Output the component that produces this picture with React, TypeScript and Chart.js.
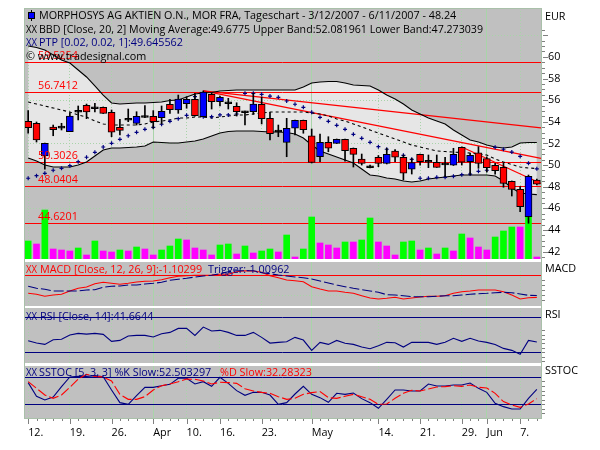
import React, { useEffect, useRef } from 'react';
import { Chart, registerables } from 'chart.js';

Chart.register(...registerables);

const FONT = '"Open Sans", sans-serif';
const FONT_SIZE = 10.8;
const GRAY = '#c0c0c0';
const NAVY = '#000080';
const RED = '#ff0000';
const GRID = '#a8d4a8';
const TICK = '#808080';

const opens = [54.04, 53.86, 50.84, 53.52, 53.60, 53.08, 54.88, 55.52, 55.39, 55.34, 54.88, 53.49, 54.32, 53.86, 54.58, 54.50, 54.38, 55.62, 55.09, 55.67, 56.08, 54.47, 56.54, 55.86, 55.85, 55.43, 55.02, 54.93, 55.62, 54.32, 53.24, 52.10, 53.40, 54.14, 52.71, 50.77, 52.10, 52.01, 52.38, 51.55, 50.56, 49.94, 50.72, 50.16, 51.30, 50.72, 49.61, 50.99, 50.44, 50.26, 50.19, 49.98, 51.64, 50.31, 51.14, 50.59, 49.98, 49.79, 48.50, 47.76, 45.23, 48.62];
const closes = [53.45, 52.32, 52.01, 53.27, 53.42, 54.53, 55.06, 54.90, 55.21, 54.78, 53.03, 53.21, 54.14, 54.50, 54.40, 54.01, 54.97, 55.12, 56.10, 56.08, 54.56, 56.75, 55.86, 56.26, 55.67, 54.93, 54.84, 55.64, 54.29, 52.90, 53.06, 53.40, 54.14, 53.27, 50.24, 52.10, 51.55, 52.38, 51.33, 50.99, 50.16, 49.76, 50.16, 50.99, 50.72, 49.24, 50.22, 50.31, 50.26, 49.79, 50.01, 50.99, 50.26, 50.90, 50.16, 49.76, 49.48, 48.31, 47.76, 46.15, 48.96, 48.24];
const highs = [55.03, 53.98, 52.04, 53.70, 53.86, 54.84, 55.46, 55.64, 55.71, 55.37, 55.09, 54.23, 55.18, 54.93, 55.49, 55.03, 55.46, 56.08, 56.47, 56.32, 56.63, 56.85, 56.66, 56.38, 56.17, 55.76, 54.99, 56.63, 56.29, 54.88, 53.70, 54.32, 54.16, 54.16, 53.33, 52.87, 52.62, 52.41, 52.41, 51.58, 51.02, 50.00, 50.88, 51.55, 51.42, 50.93, 50.62, 51.02, 50.93, 50.93, 50.72, 51.55, 51.67, 51.09, 51.70, 50.75, 50.16, 50.19, 48.53, 48.00, 49.08, 48.71];
const lows = [52.94, 52.13, 49.63, 52.71, 53.24, 53.08, 54.17, 54.29, 54.90, 54.76, 52.62, 52.78, 54.01, 53.70, 54.38, 53.40, 53.80, 54.78, 54.78, 55.25, 54.53, 54.47, 55.18, 55.46, 55.18, 54.53, 53.70, 54.69, 53.80, 52.32, 52.62, 50.77, 52.78, 52.94, 50.19, 50.31, 51.23, 51.99, 50.37, 49.82, 50.00, 49.73, 49.85, 50.10, 50.31, 48.62, 49.17, 50.00, 49.76, 49.78, 48.92, 49.96, 50.00, 49.08, 49.70, 49.36, 49.15, 47.95, 47.14, 45.69, 44.62, 48.16];
const volumes = [18, 15, 49, 10, 9, 8, 11, 4, 18, 8, 7, 9, 8, 12, 10, 4, 9, 13, 20, 19, 11, 9, 4, 14, 15, 5, 13, 6, 8, 10, 7, 24, 2, 10, 42, 16, 14, 11, 17, 17, 19, 41, 17, 13, 4, 17, 18, 9, 11, 5, 11, 8, 25, 21, 12, 9, 22, 28, 32, 32, 51, 2];
const volumeRising = [1, 0, 1, 0, 0, 0, 1, 0, 1, 0, 0, 1, 0, 1, 0, 0, 1, 1, 1, 0, 0, 0, 0, 1, 1, 0, 1, 0, 1, 1, 0, 1, 0, 1, 1, 0, 0, 0, 1, 0, 1, 1, 0, 0, 0, 1, 1, 0, 1, 0, 1, 0, 1, 0, 0, 0, 1, 1, 1, 0, 1, 0];

const upperBand = [61.0, 60.87, 60.63, 60.17, 59.71, 59.43, 58.79, 58.14, 57.31, 56.47, 55.74, 55.64, 55.69, 55.74, 55.74, 55.78, 55.83, 55.97, 56.01, 56.29, 56.57, 56.66, 56.71, 56.85, 56.89, 56.94, 56.94, 56.94, 56.94, 56.94, 56.94, 56.94, 56.94, 57.21, 57.58, 57.68, 57.72, 57.72, 57.58, 57.40, 57.35, 57.31, 56.94, 56.47, 56.11, 55.64, 55.09, 54.72, 54.35, 54.07, 53.80, 53.24, 52.78, 52.32, 52.13, 51.85, 51.67, 51.58, 51.67, 52.04, 52.08, 52.08];
const lowerBand = [50.65, 50.37, 50.01, 49.82, 49.82, 49.82, 50.01, 50.28, 50.84, 51.39, 51.58, 51.58, 51.62, 51.67, 51.76, 52.13, 52.08, 52.04, 52.04, 52.13, 52.22, 52.41, 52.69, 52.96, 53.10, 53.15, 53.15, 53.15, 53.10, 53.05, 53.05, 53.01, 52.87, 52.50, 51.85, 51.30, 51.02, 50.75, 50.47, 50.19, 49.64, 49.08, 48.99, 48.80, 48.71, 48.53, 48.43, 48.53, 48.71, 48.80, 48.90, 48.99, 49.08, 49.08, 49.08, 49.08, 48.99, 48.53, 47.88, 47.42, 47.33, 47.27];
const movingAvg = [55.83, 55.64, 55.46, 55.27, 55.09, 54.90, 54.63, 54.44, 54.07, 53.80, 53.70, 53.70, 53.70, 53.70, 53.80, 53.98, 54.07, 54.17, 54.35, 54.35, 54.44, 54.44, 54.35, 54.44, 54.53, 54.63, 54.63, 54.72, 54.81, 54.90, 54.90, 54.90, 54.90, 54.90, 54.81, 54.72, 54.53, 54.26, 54.07, 53.80, 53.52, 53.24, 52.96, 52.69, 52.41, 52.13, 51.85, 51.67, 51.48, 51.30, 51.25, 51.20, 51.16, 51.11, 51.02, 50.93, 50.56, 50.28, 50.05, 49.82, 49.73, 49.68];
const parabolic = [48.78, 49.02, 49.24, 49.52, 49.70, 49.94, 50.31, 50.72, 51.18, 51.67, 52.01, 52.38, 52.71, 53.03, 53.30, 53.49, 53.77, 54.04, 54.29, 54.60, 56.32, 54.47, 54.47, 54.63, 54.63, 54.72, 56.63, 56.63, 56.54, 56.38, 56.26, 55.92, 55.62, 55.34, 54.88, 54.41, 54.04, 53.67, 53.30, 52.84, 52.47, 52.10, 51.70, 51.46, 51.20, 50.90, 50.53, 48.78, 48.78, 48.87, 48.87, 48.96, 49.11, 49.17, 49.42, 49.52, 51.64, 51.46, 51.20, 50.81, 50.16, 49.65];

const macd = [-0.90, -0.95, -1.05, -0.985, -0.95, -0.785, -0.65, -0.585, -0.42, -0.35, -0.40, -0.45, -0.40, -0.335, -0.30, -0.285, -0.22, -0.12, -0.05, -0.02, 0, 0, 0.015, 0.05, 0.05, 0.18, 0.23, 0.215, 0.15, -0.02, -0.12, -0.235, -0.27, -0.32, -0.57, -0.685, -0.785, -0.785, -0.85, -0.90, -1.02, -1.135, -1.185, -1.15, -1.10, -1.185, -1.135, -1.085, -1.05, -1.05, -1.02, -0.90, -0.82, -0.785, -0.735, -0.735, -0.735, -0.82, -0.985, -1.185, -1.12, -1.103];
const trigger = [-0.55, -0.65, -0.70, -0.785, -0.785, -0.785, -0.785, -0.735, -0.72, -0.60, -0.55, -0.535, -0.485, -0.485, -0.435, -0.40, -0.35, -0.25, -0.20, -0.15, -0.085, -0.035, 0, 0.08, 0.18, 0.23, 0.23, 0.23, 0.13, 0.08, 0.015, -0.035, -0.085, -0.12, -0.185, -0.285, -0.385, -0.485, -0.57, -0.65, -0.72, -0.785, -0.85, -0.97, -0.985, -1.02, -1.07, -1.07, -1.07, -1.05, -1.02, -1.02, -0.985, -0.95, -0.92, -0.90, -0.87, -0.85, -0.87, -0.935, -1.0, -1.01];
const rsi = [43.1, 40.4, 38.9, 44.2, 44.6, 49.4, 51.3, 50.5, 51.3, 50.2, 42.3, 43.4, 48.3, 49.0, 49.0, 47.2, 50.9, 52.4, 56.9, 56.9, 49.0, 58.4, 53.9, 54.7, 52.4, 49.0, 49.0, 52.4, 46.8, 40.4, 41.2, 41.9, 46.8, 43.8, 32.2, 41.2, 38.9, 43.4, 40.1, 38.9, 35.9, 34.1, 37.4, 41.2, 40.8, 35.9, 41.2, 41.2, 41.2, 38.9, 41.2, 45.7, 42.3, 45.7, 42.7, 41.2, 38.9, 34.4, 32.2, 27.7, 43.4, 41.66];
const stochK = [67.1, 37.3, 29.4, 35.9, 58.4, 79.4, 80.8, 80.8, 82.3, 80.1, 51.1, 23.6, 20, 38.8, 56.9, 56.9, 60.5, 63.4, 76.5, 76.5, 64.2, 69.2, 59.1, 78.7, 65.6, 49.7, 39.5, 46.0, 46.0, 40.2, 20, 23.6, 42.4, 59.1, 41.7, 34.5, 24.3, 43.9, 41.7, 44.6, 32.3, 23.6, 11.3, 30.8, 51.1, 51.1, 48.9, 48.9, 64.2, 59.8, 59.8, 62, 62, 66.3, 54.7, 46, 22.1, 14.9, 9.8, 9.8, 33, 52.5];
const stochD = [69.2, 54.7, 40.2, 33, 40.2, 56.9, 75, 85.2, 80.8, 79.4, 70.7, 41.7, 30.8, 30.8, 36.6, 51.1, 60.5, 64.2, 69.2, 75, 74.3, 70.7, 64.2, 67.8, 67.1, 65.6, 54, 48.9, 46, 43.9, 36.6, 30.8, 33, 41.7, 45.3, 47.5, 34.5, 33, 37.4, 41.7, 36.6, 30.8, 20, 20.7, 33, 43.9, 50.4, 48.9, 53.3, 57.6, 58.4, 60.5, 59.1, 62, 56.9, 55.5, 43.9, 25.8, 18.5, 13.4, 20.7, 32.28];

const priceLevels = [59.5254, 56.7412, 50.3026, 48.0404, 44.6201];
// trend lines: from index, from price, to index, to price
const trendLines = [
  [21, 56.85, 61, 53.48],
  [21, 56.85, 61, 50.70],
  [52, 51.67, 61, 48.48],
];

const tickIndex = [0, 5, 10, 15, 19, 23, 28, 34, 42, 47, 52, 55, 59];
const tickText = ['12.', '19.', '26.', 'Apr', '10.', '16.', '23.', 'May', '14.', '21.', '29.', 'Jun', '7.'];
const monthIndex = [15, 34, 55];
const categories = opens.map((_, i) => {
  const t = tickIndex.indexOf(i);
  return t < 0 ? '' : tickText[t];
});

const bodyColor = (i: number) => {
  if (Math.abs(opens[i] - closes[i]) < 0.2) return '#000000';
  return closes[i] < opens[i] ? RED : '#0000ff';
};

const lineSet = (data: number[], color: string, extra = {}) => ({
  type: 'line', data, borderColor: color, borderWidth: 1.1, pointRadius: 0, tension: 0, ...extra,
});

const mainDatasets = [
  lineSet(upperBand, '#000000', { fill: '+1', backgroundColor: '#e6e6e6', order: 10 }),
  lineSet(lowerBand, '#000000', { order: 10 }),
  lineSet(movingAvg, '#000000', { borderDash: [3, 3], order: 9 }),
  {
    type: 'line', data: parabolic, showLine: false, pointStyle: 'cross', pointRadius: 2,
    pointBorderColor: NAVY, pointBorderWidth: 1.2, order: 7,
  },
  {
    type: 'bar', data: volumes, yAxisID: 'vol', barThickness: 6, grouped: false, order: 8,
    backgroundColor: volumes.map((_, i) => (volumeRising[i] ? '#00ff00' : '#ff00ff')),
  },
  {
    type: 'bar', data: opens.map((_, i) => [lows[i], highs[i]]), barThickness: 1, grouped: false,
    backgroundColor: '#000000', order: 5,
  },
  {
    type: 'bar', data: opens.map((_, i) => [opens[i], closes[i]]), barThickness: 7, grouped: false,
    backgroundColor: opens.map((_, i) => bodyColor(i)), borderColor: '#000000', borderWidth: 1,
    borderSkipped: false, order: 4,
  },
];

const panels = [
  {
    top: 0, height: 259, padTop: 8, min: 41.318, max: 64.516, step: 0.5, tickRange: [41.5, 62.5], majorEvery: 2,
    gridValues: [62, 56, 52, 46], levels: priceLevels, levelColor: RED, levelLabels: true, trends: trendLines,
    datasets: mainDatasets,
    texts: [
      ['XX', 26, 30, '#000000', 11],
      ['XX', 26, 43, NAVY, 11],
      ['MORPHOSYS AG AKTIEN O.N., MOR FRA, Tageschart - 3/12/2007 - 6/11/2007 - 48.24', 39, 16, '#000000'],
      ['BBD [Close, 20, 2] Moving Average:49.6775 Upper Band:52.081961 Lower Band:47.273039', 39, 30, '#000000', 444],
      ['PTP [0.02, 0.02, 1]:49.645562', 39, 43, NAVY],
      ['© www.tradesignal.com', 26, 57, '#000000'],
      ['EUR', 545, 17, '#000000'],
    ],
  },
  {
    top: 262, height: 44, padTop: 0, min: -1.535, max: 0.665, step: 0.25, tickRange: [-1.25, -0.25],
    gridValues: [-1], levels: [0], levelColor: RED,
    datasets: [
      lineSet(trigger, NAVY, { borderDash: [10, 3] }),
      lineSet(macd, RED),
    ],
    texts: [
      ['XX', 26, 270, RED, 11],
      ['MACD [Close, 12, 26, 9]:-1.10299', 40, 270, RED],
      ['Trigger:-1.00962', 208, 270, NAVY],
      ['MACD', 545, 269, '#000000'],
    ],
  },
  {
    top: 308, height: 55, padTop: 0, min: 18, max: 79.8, step: 5, tickRange: [20, 55],
    gridValues: [], levels: [70, 30], levelColor: NAVY,
    datasets: [lineSet(rsi, NAVY)],
    texts: [
      ['XX', 26, 317, NAVY, 11],
      ['RSI [Close, 14]:41.6644', 40, 317, NAVY],
      ['RSI', 545, 315, '#000000'],
    ],
  },
  {
    top: 366, height: 84, padTop: 0, min: -9.8, max: 103.3, step: 10, tickRange: [0, 70], axisHeight: 32,
    gridValues: [], levels: [80, 20], levelColor: NAVY,
    datasets: [
      lineSet(stochD, RED, { borderDash: [10, 3] }),
      lineSet(stochK, NAVY),
    ],
    texts: [
      ['XX', 26, 373, NAVY, 11],
      ['SSTOC [5, 3, 3] %K Slow:52.503297', 39, 373, NAVY],
      ['%D Slow:32.28323', 220, 373, RED],
      ['SSTOC', 545, 371, '#000000'],
    ],
  },
];

const panelPlugin = (panel: any) => ({
  id: 'panelExtras',
  beforeDatasetsDraw(chart: any) {
    const { ctx, chartArea: a, scales } = chart;
    ctx.save();
    ctx.strokeStyle = panel.levelColor;
    ctx.lineWidth = 1;
    panel.levels.forEach((v: number) => {
      const y = Math.round(scales.y.getPixelForValue(v)) + 0.5;
      ctx.beginPath();
      ctx.moveTo(a.left, y);
      ctx.lineTo(a.right, y);
      ctx.stroke();
    });
    ctx.lineWidth = 1.2;
    (panel.trends || []).forEach(([i0, p0, i1, p1]: number[]) => {
      const x0 = scales.x.getPixelForValue(i0);
      const x1 = scales.x.getPixelForValue(i1);
      const y0 = scales.y.getPixelForValue(p0);
      const y1 = scales.y.getPixelForValue(p1);
      ctx.beginPath();
      ctx.moveTo(x0, y0);
      ctx.lineTo(a.right, y0 + ((y1 - y0) * (a.right - x0)) / (x1 - x0));
      ctx.stroke();
    });
    ctx.restore();
  },
  afterDraw(chart: any) {
    const { ctx, chartArea: a, scales } = chart;
    ctx.save();
    ctx.strokeStyle = TICK;
    ctx.lineWidth = 1;
    scales.y.ticks.forEach((t: any) => {
      if (t.value < panel.tickRange[0] - 1e-6 || t.value > panel.tickRange[1] + 1e-6) return;
      const major = panel.majorEvery && t.value % panel.majorEvery === 0;
      const y = Math.round(scales.y.getPixelForValue(t.value)) + 0.5;
      ctx.beginPath();
      ctx.moveTo(a.right + (major ? 2 : 1), y);
      ctx.lineTo(a.right + (major ? 7 : 4), y);
      ctx.stroke();
    });
    if (panel.axisHeight) {
      categories.forEach((label, i) => {
        const x = Math.round(scales.x.getPixelForValue(i)) + 0.5;
        ctx.beginPath();
        ctx.moveTo(x, a.bottom + 1);
        ctx.lineTo(x, a.bottom + (label ? 6 : 3));
        ctx.stroke();
      });
    }
    ctx.font = `${FONT_SIZE}px ${FONT}`;
    ctx.textBaseline = 'middle';
    ctx.textAlign = 'left';
    if (panel.levelLabels) {
      ctx.fillStyle = RED;
      panel.levels.forEach((v: number) => {
        ctx.fillText(v.toFixed(4), 38, scales.y.getPixelForValue(v) - 6);
      });
      // small candle glyph of the title line
      ctx.fillStyle = '#000000';
      ctx.fillRect(31, 10, 1, 11);
      ctx.fillStyle = '#0000ff';
      ctx.strokeStyle = '#000000';
      ctx.fillRect(28, 12, 7, 7);
      ctx.strokeRect(28.5, 12.5, 6, 6);
    }
    panel.texts.forEach(([text, x, y, color, width]: any) => {
      ctx.fillStyle = color;
      ctx.fillText(text, x, y - panel.top, width);
    });
    ctx.restore();
  },
});

function Panel({ panel }: { panel: any }) {
  const ref = useRef<HTMLCanvasElement>(null);
  const plotTop = panel.top + panel.padTop;
  const plotHeight = panel.height - panel.padTop - (panel.axisHeight || 0);

  useEffect(() => {
    if (!ref.current) return;
    const chart = new Chart(ref.current, {
      type: 'bar',
      data: { labels: categories, datasets: panel.datasets },
      plugins: [panelPlugin(panel)],
      options: {
        responsive: false,
        animation: false,
        devicePixelRatio: 1,
        layout: { autoPadding: false, padding: { left: 24, top: panel.padTop, right: 0, bottom: 0 } },
        plugins: {
          legend: { display: false },
          tooltip: { enabled: false },
          filler: { drawTime: 'beforeDraw' },
        },
        scales: {
          x: {
            type: 'category',
            offset: true,
            border: { display: false, dash: (c: any) => (monthIndex.includes(c.index) ? [] : [1, 2]) },
            grid: {
              offset: false,
              drawTicks: false,
              color: (c: any) => (tickIndex.includes(c.index) ? GRID : 'rgba(0,0,0,0)'),
            },
            ticks: {
              display: !!panel.axisHeight,
              autoSkip: false,
              maxRotation: 0,
              align: 'start',
              padding: 8,
              color: '#000000',
              font: { family: FONT, size: FONT_SIZE },
            },
            afterFit: (s: any) => {
              s.height = panel.axisHeight || 0;
              s.paddingLeft = 0;
              s.paddingRight = 0;
            },
          },
          y: {
            type: 'linear',
            position: 'right',
            min: panel.min,
            max: panel.max,
            border: { display: false, dash: [1, 2] },
            grid: {
              drawTicks: false,
              color: (c: any) =>
                panel.gridValues.some((v: number) => Math.abs(v - c.tick.value) < 1e-6) ? GRID : 'rgba(0,0,0,0)',
            },
            ticks: {
              stepSize: panel.step,
              includeBounds: false,
              autoSkip: false,
              padding: 7,
              color: '#000000',
              font: { family: FONT, size: FONT_SIZE },
              callback: (v: any) => (panel.majorEvery && v % panel.majorEvery === 0 && v <= 60 ? String(v) : ''),
            },
            afterFit: (s: any) => {
              s.width = 59;
              s.paddingTop = 0;
              s.paddingBottom = 0;
            },
          },
          vol: { type: 'linear', axis: 'y', display: false, min: 0, max: 251 },
        },
      } as any,
    } as any);
    return () => chart.destroy();
  }, [panel]);

  return (
    <>
      <div style={{ position: 'absolute', left: 24, top: plotTop, width: 517, height: plotHeight, background: GRAY }} />
      <canvas
        ref={ref}
        width={600}
        height={panel.height}
        style={{ position: 'absolute', left: 0, top: panel.top, width: 600, height: panel.height }}
      />
    </>
  );
}

export default function App() {
  return (
    <div style={{ position: 'absolute', left: 0, top: 0, width: 600, height: 450, background: '#fff' }}>
      {panels.map((p) => <Panel key={p.top} panel={p} />)}
      <div
        style={{
          position: 'absolute', left: 24, top: 8, width: 518, height: 411, boxSizing: 'border-box',
          border: '1px solid #a9c0a9', pointerEvents: 'none',
        }}
      />
    </div>
  );
}
